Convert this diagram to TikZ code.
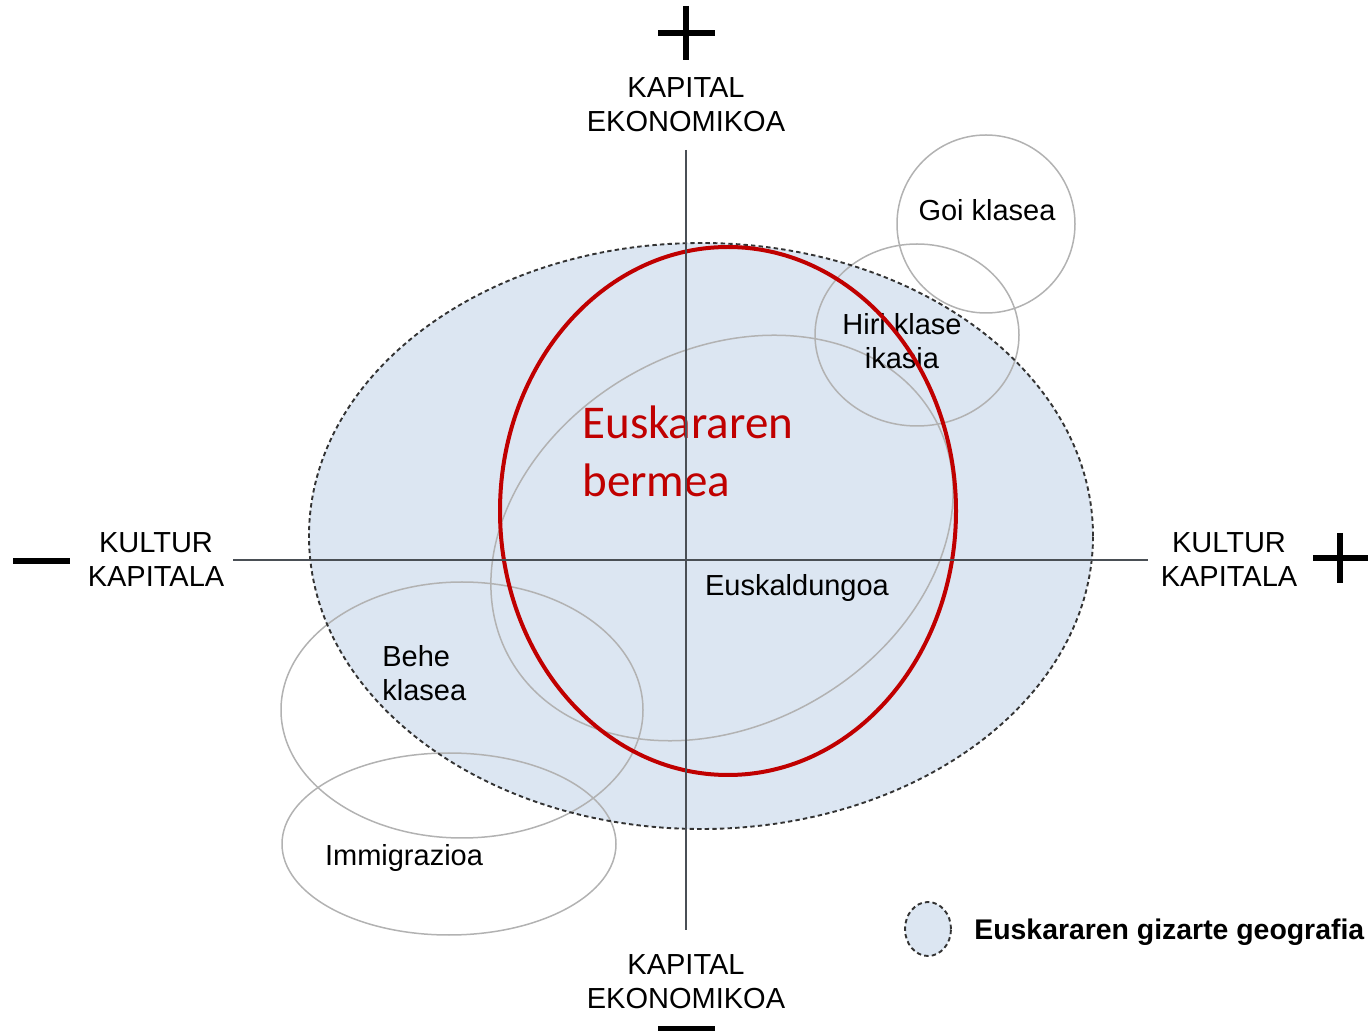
\documentclass[tikz,border=0pt]{standalone}
\usepackage{fontspec}
\setmainfont{Liberation Sans}
\newfontfamily\redfont{Carlito}
\definecolor{geoblue}{HTML}{DCE6F2}
\definecolor{bermered}{HTML}{C00000}
\definecolor{axisgray}{HTML}{4A4F55}

\begin{document}
\begin{tikzpicture}[x=0.5pt,y=0.5pt,
  lbl/.style={font=\fontsize{14.5}{17}\selectfont,align=center,inner sep=0pt},
  klase/.style={draw=black!30,line width=0.75pt},
  signbar/.style={line width=3.4pt},
  geoborder/.style={draw=black!80,dash pattern=on 2.2pt off 1.6pt,line width=0.95pt},
  axisline/.style={draw=axisgray,line width=0.75pt}]
  \useasboundingbox (0,0) rectangle (1372,-1031);
  % gizarte geografia
  \path[fill=geoblue] (701,-536) ellipse [x radius=392,y radius=293];
  % klaseak
  \draw[klase] (986,-224) circle [radius=89];
  \draw[klase] (917,-335) ellipse [x radius=102,y radius=91];
  \draw[klase,rotate around={30:(722,-538)}] (722,-538)
    ellipse [x radius=244,y radius=187];
  \draw[klase] (462,-710) ellipse [x radius=181,y radius=128];
  \draw[klase] (449,-844) ellipse [x radius=167,y radius=91];
  \draw[geoborder] (701,-536) ellipse [x radius=392,y radius=293];
  % + eta - ikurrak
  \draw[signbar] (658,-33)--(715,-33) (686,-6)--(686,-60);
  \draw[signbar] (1313,-558)--(1368,-558) (1340,-533)--(1340,-583);
  \draw[signbar] (13,-561)--(70,-561);
  \draw[signbar] (658,-1029.5)--(715,-1029.5);
  % testuak
  \node[lbl] (ktop) at (686,-105) {KAPITAL\\EKONOMIKOA};
  \node[lbl] (kbot) at (686,-982) {KAPITAL\\EKONOMIKOA};
  \node[lbl] (kleft) at (156,-560) {KULTUR\\KAPITALA};
  \node[lbl] (kright) at (1229,-560) {KULTUR\\KAPITALA};
  \node[lbl] (goi) at (987,-210) {Goi klasea};
  \node[lbl] (hiri) at (902,-341) {Hiri klase\\ikasia};
  \node[lbl] (euskaldun) at (797,-588) {Euskaldungoa};
  \node[lbl,align=left,anchor=west] (behe) at (382,-673) {Behe\\klasea};
  \node[lbl] (immig) at (404,-858) {Immigrazioa};
  % bermea
  \draw[bermered,line width=2pt] (728,-511) ellipse [x radius=228,y radius=264];
  \node[font=\redfont\fontsize{23.5}{29}\selectfont,text=bermered,
    align=left,anchor=west,inner sep=0pt] (bermea) at (582,-451)
    {Euskararen\\bermea};
  % ardatzak
  \coordinate (N) at (686,-150);
  \coordinate (S) at (686,-930);
  \coordinate (W) at (233,-560);
  \coordinate (E) at (1148,-560);
  \draw[axisline] (N)--(S) (W)--(E);
  % legenda
  \draw[geoborder,fill=geoblue]
    (928,-929) ellipse [x radius=23,y radius=27];
  \node[lbl,font=\bfseries\fontsize{14.2}{17}\selectfont,anchor=west]
    (legenda) at (974,-932) {Euskararen gizarte geografia};
\end{tikzpicture}
\end{document}
